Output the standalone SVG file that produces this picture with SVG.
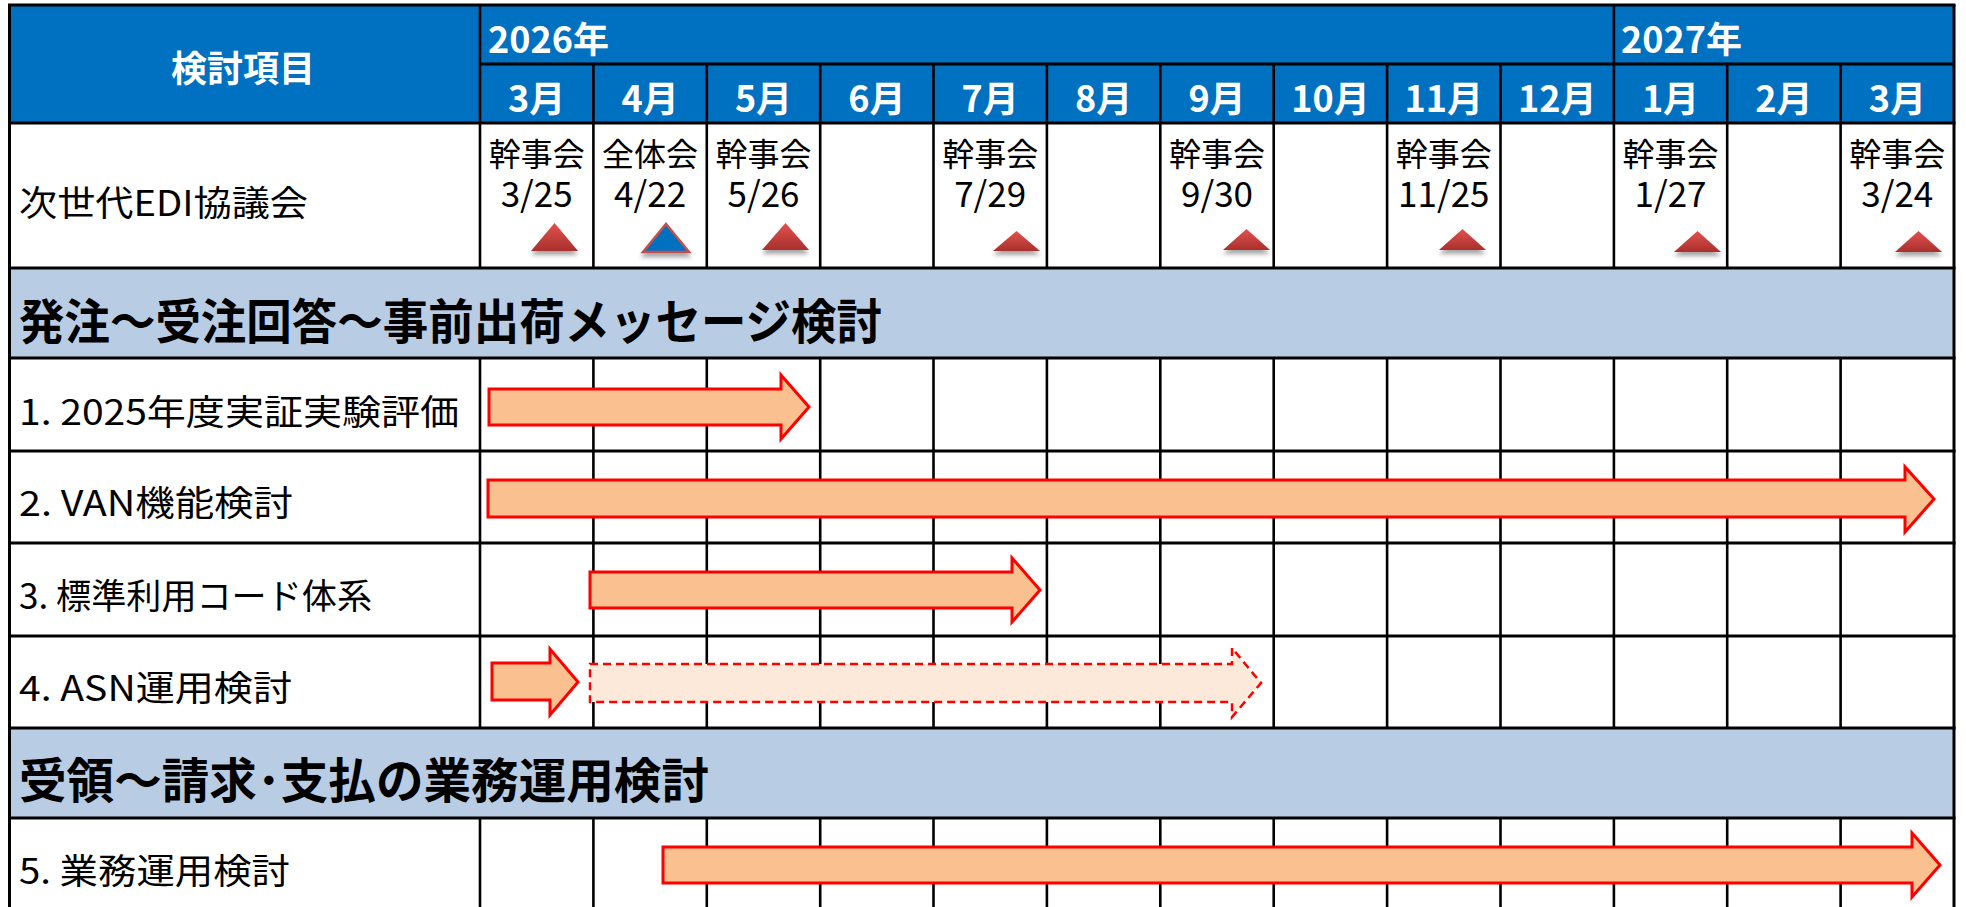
<svg xmlns="http://www.w3.org/2000/svg" width="1966" height="907" viewBox="0 0 1966 907">
<style>
.t{font-family:"Noto Sans CJK JP","Noto Sans",sans-serif;fill:#000;dominant-baseline:central}
.lbl{font-size:35px}
.mt{font-size:32px;text-anchor:middle}
.dt{font-size:35px;text-anchor:middle}
.hd{font-size:36px;font-weight:bold;fill:#fff}
.mo{text-anchor:middle}
.band{font-size:48px;font-weight:bold}
.ln{stroke:#000;stroke-width:2.6;fill:none}
.hl{stroke:#000;stroke-width:3;fill:none}
.arr{fill:#FAC090;stroke:#FF0000;stroke-width:3;stroke-linejoin:miter}
.arrd{fill:#FDE9D9;stroke:#FF0000;stroke-width:2.5;stroke-dasharray:8 5}
.tri{fill:url(#rg);filter:url(#sh)}
.trib{fill:#0070C0;stroke:#C0504D;stroke-width:2.5;filter:url(#sh)}
</style>
<defs>
<linearGradient id="rg" x1="0" y1="0" x2="0" y2="1">
<stop offset="0" stop-color="#E2524E"/>
<stop offset="1" stop-color="#A8302D"/>
</linearGradient>
<filter id="sh" x="-30%" y="-30%" width="160%" height="180%">
<feGaussianBlur in="SourceAlpha" stdDeviation="2"/>
<feOffset dy="4" result="b"/>
<feFlood flood-color="#000" flood-opacity="0.35"/>
<feComposite in2="b" operator="in"/>
<feMerge><feMergeNode/><feMergeNode in="SourceGraphic"/></feMerge>
</filter>
</defs>
<rect width="1966" height="907" fill="#fff"/>

<g id="header">
<rect x="9.5" y="5" width="1944.5" height="118" fill="#0070C0"/>
<text class="t hd" x="243" y="66" text-anchor="middle">検討項目</text>
<text class="t hd" x="488" y="37">2026年</text>
<text class="t hd" x="1621" y="37">2027年</text>
<text class="t hd mo" x="536.7" y="96">3月</text>
<text class="t hd mo" x="650.1" y="96">4月</text>
<text class="t hd mo" x="763.5" y="96">5月</text>
<text class="t hd mo" x="876.8" y="96">6月</text>
<text class="t hd mo" x="990.2" y="96">7月</text>
<text class="t hd mo" x="1103.6" y="96">8月</text>
<text class="t hd mo" x="1217" y="96">9月</text>
<text class="t hd mo" x="1330.4" y="96">10月</text>
<text class="t hd mo" x="1443.8" y="96">11月</text>
<text class="t hd mo" x="1557.2" y="96">12月</text>
<text class="t hd mo" x="1670.5" y="96">1月</text>
<text class="t hd mo" x="1783.9" y="96">2月</text>
<text class="t hd mo" x="1897.3" y="96">3月</text>
</g>

<g id="band1">
<rect x="9.5" y="268" width="1944.5" height="90" fill="#B8CCE4"/>
<text class="t band" x="19" y="318" textLength="863" lengthAdjust="spacingAndGlyphs">発注～受注回答～事前出荷メッセージ検討</text>
</g>
<g id="band2">
<rect x="9.5" y="728" width="1944.5" height="90" fill="#B8CCE4"/>
<text class="t band" x="19" y="777" textLength="690" lengthAdjust="spacingAndGlyphs">受領～請求･支払の業務運用検討</text>
</g>

<g id="grid">
<path class="hl" d="M8,5H1955.5 M480,64H1954 M8,123H1955.5 M8,268H1955.5 M8,358H1955.5 M8,451H1955.5 M8,543H1955.5 M8,636H1955.5 M8,728H1955.5 M8,818H1955.5"/>
<path class="hl" d="M9.5,5V907 M1954,5V907"/>
<path class="ln" d="M480,5V268 M480,358V728 M480,818V907 M1613.9,5V268 M1613.9,358V728 M1613.9,818V907"/>
<path class="ln" d="M593.4,64V268 M706.8,64V268 M820.2,64V268 M933.5,64V268 M1046.9,64V268 M1160.3,64V268 M1273.7,64V268 M1387.1,64V268 M1500.5,64V268 M1727.2,64V268 M1840.6,64V268"/>
<path class="ln" d="M593.4,358V728 M706.8,358V728 M820.2,358V728 M933.5,358V728 M1046.9,358V728 M1160.3,358V728 M1273.7,358V728 M1387.1,358V728 M1500.5,358V728 M1727.2,358V728 M1840.6,358V728"/>
<path class="ln" d="M593.4,818V907 M706.8,818V907 M820.2,818V907 M933.5,818V907 M1046.9,818V907 M1160.3,818V907 M1273.7,818V907 M1387.1,818V907 M1500.5,818V907 M1727.2,818V907 M1840.6,818V907"/>
</g>

<g id="meetings">
<text class="t lbl" x="19" y="200" textLength="289" lengthAdjust="spacingAndGlyphs">次世代EDI協議会</text>
<g id="m1"><text class="t mt" x="536.7" y="152">幹事会</text><text class="t dt" x="536.7" y="191">3/25</text><polygon class="tri" points="531,251 554.5,223 578,251"/></g>
<g id="m2"><text class="t mt" x="650.1" y="152">全体会</text><text class="t dt" x="650.1" y="191">4/22</text><polygon class="trib" points="643,252 666,224 689,252"/></g>
<g id="m3"><text class="t mt" x="763.5" y="152">幹事会</text><text class="t dt" x="763.5" y="191">5/26</text><polygon class="tri" points="762,250 785.5,223 809,250"/></g>
<g id="m4"><text class="t mt" x="990.2" y="152">幹事会</text><text class="t dt" x="990.2" y="191">7/29</text><polygon class="tri" points="993,251 1016.5,231 1040,251"/></g>
<g id="m5"><text class="t mt" x="1217" y="152">幹事会</text><text class="t dt" x="1217" y="191">9/30</text><polygon class="tri" points="1223,250 1246.5,229 1270,250"/></g>
<g id="m6"><text class="t mt" x="1443.8" y="152">幹事会</text><text class="t dt" x="1443.8" y="191">11/25</text><polygon class="tri" points="1439,250 1462.5,229 1486,250"/></g>
<g id="m7"><text class="t mt" x="1670.5" y="152">幹事会</text><text class="t dt" x="1670.5" y="191">1/27</text><polygon class="tri" points="1674,252 1697.5,231 1721,252"/></g>
<g id="m8"><text class="t mt" x="1897.3" y="152">幹事会</text><text class="t dt" x="1897.3" y="191">3/24</text><polygon class="tri" points="1895,252 1918.5,231 1942,252"/></g>
</g>

<g id="row1"><text class="t lbl" x="19" y="409" textLength="440" lengthAdjust="spacingAndGlyphs">1. 2025年度実証実験評価</text></g>
<g id="row2"><text class="t lbl" x="19" y="500" textLength="274" lengthAdjust="spacingAndGlyphs">2. VAN機能検討</text></g>
<g id="row3"><text class="t lbl" x="19" y="593" textLength="353" lengthAdjust="spacingAndGlyphs">3. 標準利用コード体系</text></g>
<g id="row4"><text class="t lbl" x="19" y="685" textLength="273" lengthAdjust="spacingAndGlyphs">4. ASN運用検討</text></g>
<g id="row5"><text class="t lbl" x="19" y="868" textLength="271" lengthAdjust="spacingAndGlyphs">5. 業務運用検討</text></g>

<g id="connectors">
<path class="arr" d="M489,389H781V375L809,407L781,439V425H489Z"/>
<path class="arr" d="M488,480H1905V467L1934,499L1905,532V517H488Z"/>
<path class="arr" d="M590,572H1012V558L1040,590L1012,622V608H590Z"/>
<path class="arr" d="M492,663H550V649L578,682L550,715V700H492Z"/>
<path class="arrd" d="M590,664H1232V648L1261,683L1232,717V702H590Z"/>
<path class="arr" d="M663,847H1912V833L1940,865L1912,897V883H663Z"/>
</g>
</svg>
